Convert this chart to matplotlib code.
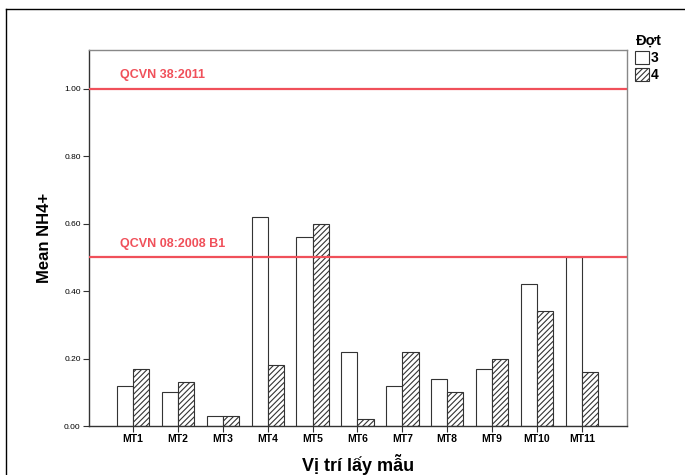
import numpy as np
import matplotlib
matplotlib.use('Agg')
import matplotlib.pyplot as plt
from matplotlib.lines import Line2D
from matplotlib.patches import Patch

plt.rcParams['font.family'] = ['Liberation Sans', 'DejaVu Sans']
plt.rcParams['hatch.linewidth'] = 0.8
plt.rcParams['hatch.color'] = '#333333'

sites = ['MT1', 'MT2', 'MT3', 'MT4', 'MT5', 'MT6', 'MT7', 'MT8', 'MT9', 'MT10', 'MT11']
dot3 = [0.12, 0.10, 0.03, 0.62, 0.56, 0.22, 0.12, 0.14, 0.17, 0.42, 0.50]
dot4 = [0.17, 0.13, 0.03, 0.18, 0.60, 0.02, 0.22, 0.10, 0.20, 0.34, 0.16]
limits = [1.0, 0.5]
limit_labels = ['QCVN 38:2011', 'QCVN 08:2008 B1']

fig = plt.figure(figsize=(6.85, 4.75), dpi=100)
ax = fig.add_axes([0.130, 0.103, 0.785, 0.792])

x = np.arange(len(sites))
w = 0.36
ax.bar(x - w / 2, dot3, w, color='white', edgecolor='#333333', linewidth=0.8, zorder=2)
ax.bar(x + w / 2, dot4, w, color='white', edgecolor='#333333', linewidth=0.8,
       hatch='//////', zorder=2)

for val, lab in zip(limits, limit_labels):
    ax.axhline(val, color='#f0505a', linewidth=1.6, zorder=3)
    ax.text(0.057, val + 0.022, lab, transform=ax.get_yaxis_transform(),
            color='#f0505a', fontsize=9, fontweight='bold', va='bottom')

ax.set_xlim(-0.98, 11.0)
ax.set_ylim(0, 1.115)
ax.set_yticks(np.arange(0, 1.01, 0.2))
ax.set_yticklabels(['%.2f' % v for v in np.arange(0, 1.01, 0.2)], fontsize=6)
ax.set_xticks(x)
ax.set_xticklabels(sites, fontsize=7.5, fontweight='bold')
ax.tick_params(axis='both', length=4, width=0.8, color='#333333', pad=2)
for s in ax.spines.values():
    s.set_color('#888888')
    s.set_linewidth(1.0)
ax.spines['left'].set_color('#333333')
ax.spines['bottom'].set_color('#333333')

ax.set_ylabel('Mean NH4+', fontsize=12, fontweight='bold', labelpad=9)
ax.set_xlabel('Vị trí lấy mẫu', fontsize=13, fontweight='bold', labelpad=7)

# legend: title as separate text so the diacritics don't hit the boxes
fig.text(636 / 685, 1 - 41 / 475, 'Đợt', fontsize=10.5, fontweight='bold', va='center', ha='left')
handles = [Patch(facecolor='white', edgecolor='#333333', linewidth=0.8, label='3'),
           Patch(facecolor='white', edgecolor='#333333', linewidth=0.8, hatch='//////', label='4')]
leg = fig.legend(handles=handles, loc='upper left', bbox_to_anchor=(632 / 685, 1 - 48 / 475),
                 frameon=False, handlelength=1.05, handleheight=1.05, handletextpad=0.1,
                 borderaxespad=0.0, borderpad=0.2, labelspacing=0.2, fontsize=10)
for t in leg.get_texts():
    t.set_fontweight('bold')

# outer frame lines
fig.add_artist(Line2D([6 / 685, 1], [1 - 9 / 475, 1 - 9 / 475], color='black', linewidth=1.0))
fig.add_artist(Line2D([6 / 685, 6 / 685], [0, 1 - 9 / 475], color='black', linewidth=1.0))

fig.savefig('out.png', dpi=100)
